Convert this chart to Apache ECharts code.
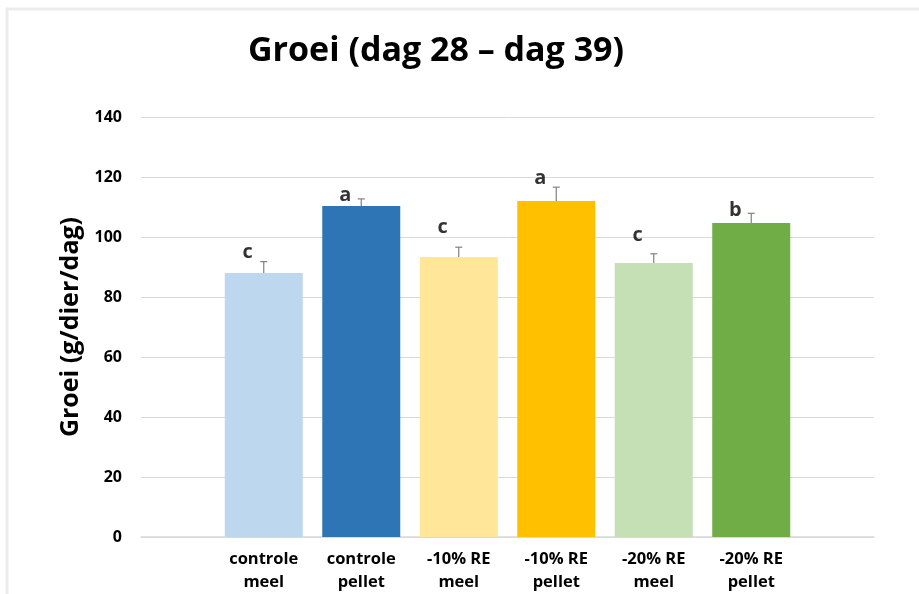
<!DOCTYPE html>
<html>
<head>
<meta charset="utf-8">
<script src="https://cdn.jsdelivr.net/npm/echarts@6/dist/echarts.min.js"></script>
<style>
  html, body { margin: 0; padding: 0; background: #fff; }
  #chart { width: 919px; height: 594px; }
</style>
</head>
<body>
<div id="chart"></div>
<script>
const categories = ['controle\nmeel', 'controle\npellet', '-10% RE\nmeel', '-10% RE\npellet', '-20% RE\nmeel', '-20% RE\npellet'];
const values = [88, 110.3, 93.3, 112, 91.3, 104.7];
const errTop = [91.8, 112.7, 96.6, 116.6, 94.4, 107.9];
const letters = ['c', 'a', 'c', 'a', 'c', 'b'];
const letterY = [95, 114, 103.4, 119.7, 100.7, 109];
const colors = ['#bdd7ee', '#2e75b6', '#ffe699', '#ffc000', '#c5e0b4', '#70ad47'];
const yTicks = { min: 0, max: 140, interval: 20 };

const font = '"Open Sans", "Noto Sans", sans-serif';
const chart = echarts.init(document.getElementById('chart'));

chart.setOption({
  animation: false,
  backgroundColor: '#fff',
  graphic: [
    { type: 'rect', shape: { x: 7, y: 9, width: 920, height: 600 }, style: { fill: 'none', stroke: '#ececec', lineWidth: 3 }, silent: true }
  ],
  title: {
    text: 'Groei (dag 28 – dag 39)',
    left: 431, top: 29, textAlign: 'center',
    textStyle: { fontFamily: font, fontWeight: 'bold', fontSize: 34, color: '#000' }
  },
  grid: [
    { left: 141, right: 45, top: 117, bottom: 57 },
    { left: 215, right: 119, top: 117, bottom: 57 }
  ],
  xAxis: [
    {
      type: 'category', gridIndex: 0, data: [''],
      axisLine: { lineStyle: { color: '#d9d9d9', width: 1.5 } },
      axisTick: { show: false }, axisLabel: { show: false }
    },
    {
      type: 'category', gridIndex: 1, data: categories,
      axisLine: { show: false }, axisTick: { show: false },
      axisLabel: { margin: 11, interval: 0, fontFamily: font, fontWeight: 'bold', fontSize: 16.5, color: '#000', lineHeight: 23 }
    }
  ],
  yAxis: [
    {
      type: 'value', gridIndex: 0, min: yTicks.min, max: yTicks.max, interval: yTicks.interval,
      name: 'Groei (g/dier/dag)', nameLocation: 'middle', nameGap: 53,
      nameTextStyle: { fontFamily: font, fontWeight: 'bold', fontSize: 25, color: '#000' },
      axisLine: { show: false }, axisTick: { show: false },
      axisLabel: { margin: 19, fontFamily: font, fontWeight: 'bold', fontSize: 16, color: '#000' },
      splitLine: { lineStyle: { color: '#d9d9d9', width: 1 } }
    },
    {
      type: 'value', gridIndex: 1, min: yTicks.min, max: yTicks.max, interval: yTicks.interval,
      show: false
    }
  ],
  series: [
    {
      type: 'bar', xAxisIndex: 1, yAxisIndex: 1, barWidth: 78,
      data: values.map((v, i) => ({ value: v, itemStyle: { color: colors[i] } })),
      z: 2
    },
    {
      type: 'custom', xAxisIndex: 1, yAxisIndex: 1, z: 3,
      data: values.map((v, i) => [i, v, errTop[i]]),
      renderItem: function (params, api) {
        const lo = api.coord([api.value(0), api.value(1)]);
        const hi = api.coord([api.value(0), api.value(2)]);
        const style = { stroke: '#808080', lineWidth: 1.2 };
        return {
          type: 'group',
          children: [
            { type: 'line', shape: { x1: lo[0], y1: lo[1], x2: hi[0], y2: hi[1] }, style: style },
            { type: 'line', shape: { x1: hi[0] - 3.5, y1: hi[1], x2: hi[0] + 3.5, y2: hi[1] }, style: style }
          ]
        };
      }
    },
    {
      type: 'scatter', xAxisIndex: 1, yAxisIndex: 1, symbolSize: 1, itemStyle: { color: 'rgba(0,0,0,0)' },
      data: letterY.map((y, i) => [i, y]),
      label: {
        show: true, position: 'inside', offset: [-16, 0],
        formatter: (p) => letters[p.dataIndex],
        fontFamily: font, fontWeight: 'bold', fontSize: 20, color: '#000'
      },
      z: 4
    }
  ]
});
</script>
</body>
</html>
